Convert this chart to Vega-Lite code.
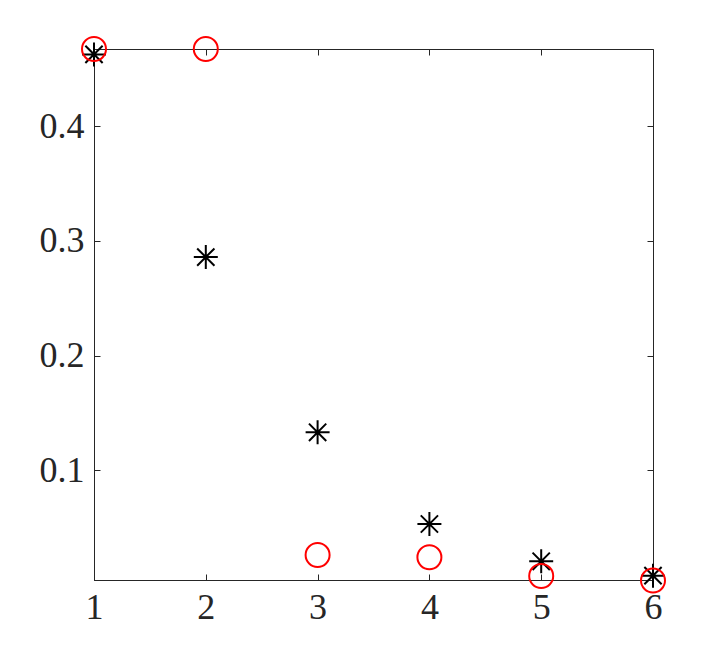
{
  "$schema": "https://vega.github.io/schema/vega-lite/v6.json",
  "width": 559,
  "height": 531,
  "autosize": {"type": "none"},
  "padding": {"left": 94, "top": 49, "right": 70, "bottom": 73},
  "background": "white",
  "config": {
    "view": {"stroke": "#262626", "strokeWidth": 1},
    "axis": {"grid": false, "domainColor": "#262626", "tickColor": "#262626", "labelColor": "#262626", "labelFont": "Liberation Serif", "labelFontSize": 36, "labelFlush": false, "tickSize": -6, "domainWidth": 1, "tickWidth": 1, "title": null}
  },
  "data": {"values": [
    {"x": 1, "value": 0.4624, "series": "star"},
    {"x": 2, "value": 0.2858, "series": "star"},
    {"x": 3, "value": 0.1331, "series": "star"},
    {"x": 4, "value": 0.0532, "series": "star"},
    {"x": 5, "value": 0.0207, "series": "star"},
    {"x": 6, "value": 0.0082, "series": "star"},
    {"x": 1, "value": 0.4671, "series": "circle"},
    {"x": 2, "value": 0.4671, "series": "circle"},
    {"x": 3, "value": 0.0262, "series": "circle"},
    {"x": 4, "value": 0.0242, "series": "circle"},
    {"x": 5, "value": 0.0079, "series": "circle"},
    {"x": 6, "value": 0.0040, "series": "circle"}
  ]},
  "layer": [
    {
      "mark": {"type": "point", "filled": false, "strokeWidth": 2, "clip": false, "opacity": 1},
      "encoding": {
        "x": {"field": "x", "type": "quantitative", "scale": {"domain": [1, 6], "nice": false, "zero": false}, "axis": {"orient": "bottom", "values": [1, 2, 3, 4, 5, 6], "labelPadding": 16, "format": "d"}},
        "y": {"field": "value", "type": "quantitative", "scale": {"domain": [0.0044, 0.4671], "nice": false, "zero": false}, "axis": {"orient": "left", "values": [0.1, 0.2, 0.3, 0.4], "labelPadding": 16, "format": ".1f"}},
        "shape": {"field": "series", "type": "nominal", "scale": {"domain": ["star", "circle"], "range": ["M-1,0L1,0M0,-1L0,1M-0.72,-0.72L0.72,0.72M-0.72,0.72L0.72,-0.72", "circle"]}, "legend": null},
        "color": {"field": "series", "type": "nominal", "scale": {"domain": ["star", "circle"], "range": ["#000000", "#ff0000"]}, "legend": null},
        "size": {"value": 576}
      }
    },
    {
      "mark": {"type": "point", "opacity": 0},
      "encoding": {
        "x": {"field": "x", "type": "quantitative", "scale": {"domain": [1, 6], "nice": false, "zero": false}, "axis": {"orient": "top", "values": [1, 2, 3, 4, 5, 6], "labels": false, "domain": false}},
        "y": {"field": "value", "type": "quantitative", "scale": {"domain": [0.0044, 0.4671], "nice": false, "zero": false}, "axis": {"orient": "right", "values": [0.1, 0.2, 0.3, 0.4], "labels": false, "domain": false}}
      }
    }
  ],
  "resolve": {"axis": {"x": "independent", "y": "independent"}}
}
